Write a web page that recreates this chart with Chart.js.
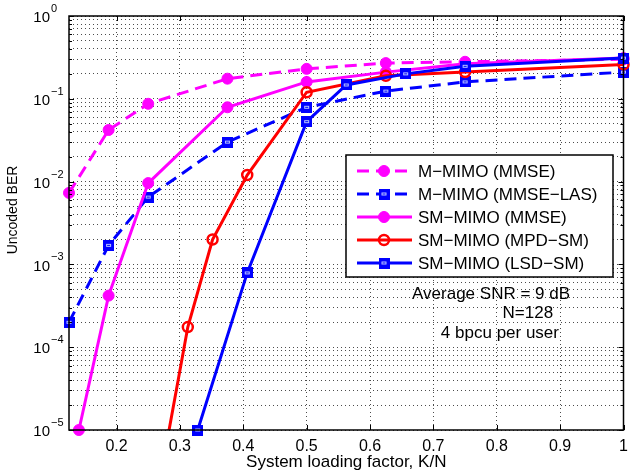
<!DOCTYPE html>
<html>
<head>
<meta charset="utf-8">
<script src="https://cdn.jsdelivr.net/npm/chart.js@4/dist/chart.umd.min.js"></script>
<style>
html, body { margin: 0; padding: 0; background: #fff; }
</style>
</head>
<body>
<canvas id="ber" width="631" height="472"></canvas>
<script>
// tick values
const xTickValues = [0.2, 0.3, 0.4, 0.5, 0.6, 0.7, 0.8, 0.9, 1];
const yDecades = [1e-5, 1e-4, 1e-3, 1e-2, 1e-1, 1];
const yExponents = ['\u22125', '\u22124', '\u22123', '\u22122', '\u22121', '0'];

// K/N values and BER
const mMimoX = [0.125, 0.1875, 0.25, 0.375, 0.5, 0.625, 0.75, 1];
const mMimoMmse = [7.3e-3, 0.042, 0.087, 0.175, 0.23, 0.27, 0.28, 0.30];
const mMimoLas = [2.0e-4, 1.7e-3, 6.5e-3, 0.030, 0.079, 0.124, 0.16, 0.21];
const smMmseX = [0.140625, 0.1875, 0.25, 0.375, 0.5, 0.625, 0.75, 1];
const smMmse = [1.0e-5, 4.2e-4, 9.6e-3, 0.079, 0.16, 0.21, 0.265, 0.31];
const smMpdX = [0.28125, 0.3125, 0.3515625, 0.40625, 0.5, 0.625, 0.75, 1];
const smMpd = [8.5e-6, 1.75e-4, 2.0e-3, 0.012, 0.12, 0.19, 0.21, 0.26];
const smLsdX = [0.328125, 0.40625, 0.5, 0.5625, 0.65625, 0.75, 1];
const smLsd = [1.0e-5, 7.9e-4, 0.053, 0.147, 0.2, 0.247, 0.31];

const legendLabels = ['M\u2212MIMO (MMSE)', 'M\u2212MIMO (MMSE\u2212LAS)', 'SM\u2212MIMO (MMSE)', 'SM\u2212MIMO (MPD\u2212SM)', 'SM\u2212MIMO (LSD\u2212SM)'];
const notes = [
    {text: 'Average SNR = 9 dB', x: 0.791, y: 4.3e-4},
    {text: 'N=128', x: 0.849, y: 2.6e-4},
    {text: '4 bpcu per user', x: 0.805, y: 1.48e-4}
];

const FONT = '"Liberation Sans", Arial, sans-serif';

// blue square marker with the small light inset like the matlab export
function squareMarker() {
    const c = document.createElement('canvas');
    c.width = 11; c.height = 11;
    const g = c.getContext('2d');
    g.fillStyle = '#0000ff';
    g.fillRect(0, 0, 11, 11);
    g.strokeStyle = '#b8c4ff';
    g.lineWidth = 1;
    g.strokeRect(3.5, 4.5, 4, 2);
    return c;
}
const sq = squareMarker();

function series(label, xs, ys, color, extra) {
    return Object.assign({
        label: label,
        data: xs.map((x, i) => ({x: x, y: ys[i]})),
        borderColor: color,
        backgroundColor: color,
        borderWidth: 3,
        pointBorderColor: color,
        pointBackgroundColor: color,
        pointBorderWidth: 1,
        pointRadius: 5.5,
        tension: 0,
        clip: {left: 12, top: 12, right: 12, bottom: 12}
    }, extra);
}

const datasets = [
    series(legendLabels[0], mMimoX, mMimoMmse, '#ff00ff', {borderDash: [12, 7], order: 5}),
    series(legendLabels[1], mMimoX, mMimoLas, '#0000ff', {borderDash: [12, 7], pointStyle: sq, pointRadius: 6, order: 4}),
    series(legendLabels[2], smMmseX, smMmse, '#ff00ff', {order: 3}),
    series(legendLabels[3], smMpdX, smMpd, '#ff0000', {pointBackgroundColor: 'rgba(0,0,0,0)', pointBorderWidth: 2.5, pointRadius: 5,
        clip: {left: 12, top: 12, right: 12, bottom: 0}, order: 2}),
    series(legendLabels[4], smLsdX, smLsd, '#0000ff', {pointStyle: sq, pointRadius: 6, order: 1})
];

const frame = {
    id: 'frame',
    afterDraw(chart) {
        const ctx = chart.ctx;
        const a = chart.chartArea;
        const xs = chart.scales.x, ys = chart.scales.y;
        ctx.save();

        // box
        ctx.strokeStyle = '#000';
        ctx.lineWidth = 1.5;
        ctx.strokeRect(a.left, a.top, a.right - a.left, a.bottom - a.top);

        // inward tick marks
        ctx.lineWidth = 1;
        ctx.beginPath();
        xTickValues.forEach(v => {
            const px = Math.round(xs.getPixelForValue(v)) + 0.5;
            ctx.moveTo(px, a.bottom); ctx.lineTo(px, a.bottom - 5);
            ctx.moveTo(px, a.top); ctx.lineTo(px, a.top + 5);
        });
        ys.ticks.forEach(t => {
            const py = Math.round(ys.getPixelForValue(t.value)) + 0.5;
            const len = yDecades.some(d => Math.abs(d - t.value) < d * 1e-6) ? 5 : 3;
            ctx.moveTo(a.left, py); ctx.lineTo(a.left + len, py);
            ctx.moveTo(a.right, py); ctx.lineTo(a.right - len, py);
        });
        ctx.stroke();

        // y tick labels, 10 with raised exponent
        ctx.fillStyle = '#000';
        yDecades.forEach((d, i) => {
            const py = ys.getPixelForValue(d);
            ctx.font = '15px ' + FONT;
            ctx.textAlign = 'right';
            ctx.textBaseline = 'middle';
            ctx.fillText('10', 50, py + 2);
            ctx.font = '11px ' + FONT;
            ctx.textAlign = 'left';
            ctx.textBaseline = 'alphabetic';
            ctx.fillText(yExponents[i], 51, py - 4);
        });

        // y title
        ctx.save();
        ctx.translate(13, 210);
        ctx.rotate(-Math.PI / 2);
        ctx.font = '14px ' + FONT;
        ctx.textAlign = 'center';
        ctx.textBaseline = 'middle';
        ctx.fillText('Uncoded BER', 0, 0);
        ctx.restore();

        // legend box
        const lx = 346, ly = 155, lw = 267, lh = 122;
        ctx.fillStyle = '#fff';
        ctx.fillRect(lx, ly, lw, lh);
        ctx.strokeStyle = '#000';
        ctx.lineWidth = 1.5;
        ctx.strokeRect(lx, ly, lw, lh);
        chart.data.datasets.forEach((ds, i) => {
            const cy = 171 + i * 23;
            ctx.save();
            ctx.strokeStyle = ds.borderColor;
            ctx.lineWidth = ds.borderWidth;
            ctx.setLineDash(ds.borderDash || []);
            ctx.beginPath();
            ctx.moveTo(357, cy); ctx.lineTo(412, cy);
            ctx.stroke();
            ctx.setLineDash([]);
            ctx.fillStyle = ds.pointBackgroundColor;
            ctx.strokeStyle = ds.pointBorderColor;
            ctx.lineWidth = ds.pointBorderWidth;
            Chart.helpers.drawPoint(ctx, {
                pointStyle: ds.pointStyle || 'circle', radius: ds.pointRadius,
                rotation: 0, borderWidth: ds.pointBorderWidth
            }, 384, cy);
            ctx.restore();
            ctx.fillStyle = '#000';
            ctx.font = '17px ' + FONT;
            ctx.textAlign = 'left';
            ctx.textBaseline = 'middle';
            ctx.fillText(ds.label, 418, cy + 1);
        });

        // text notes
        ctx.font = '17px ' + FONT;
        ctx.textAlign = 'center';
        ctx.textBaseline = 'middle';
        notes.forEach(n => {
            ctx.fillText(n.text, xs.getPixelForValue(n.x), ys.getPixelForValue(n.y));
        });

        ctx.restore();
    }
};

new Chart(document.getElementById('ber'), {
    type: 'line',
    data: {datasets: datasets},
    plugins: [frame],
    options: {
        responsive: false,
        animation: false,
        layout: {padding: {top: 16, right: 3, left: 0, bottom: 0}},
        plugins: {legend: {display: false}, tooltip: {enabled: false}},
        scales: {
            x: {
                type: 'linear',
                min: 0.125,
                max: 1,
                afterBuildTicks: axis => { axis.ticks = xTickValues.map(v => ({value: v})); },
                afterFit: axis => { axis.height = 42; axis.paddingLeft = 0; axis.paddingRight = 0; },
                ticks: {
                    autoSkip: false,
                    maxRotation: 0,
                    padding: 7,
                    color: '#000',
                    font: {family: FONT, size: 16},
                    callback: v => v === 1 ? '1' : v.toFixed(1)
                },
                grid: {color: 'rgba(0,0,0,0.7)', lineWidth: 1, drawTicks: false},
                border: {display: false, dash: [1, 3]},
                title: {
                    display: true,
                    text: 'System loading factor, K/N',
                    color: '#000',
                    font: {family: FONT, size: 17},
                    padding: {top: 0, bottom: -1}
                }
            },
            y: {
                type: 'logarithmic',
                min: 1e-5,
                max: 1,
                afterBuildTicks: axis => {
                    const t = [];
                    yDecades.forEach((d, i) => {
                        if (i === yDecades.length - 1) { t.push({value: d}); return; }
                        for (let k = 1; k <= 9; k++) t.push({value: d * k});
                    });
                    axis.ticks = t;
                },
                afterFit: axis => { axis.width = 69; axis.paddingTop = 0; axis.paddingBottom = 0; },
                ticks: {display: false, autoSkip: false},
                grid: {color: 'rgba(0,0,0,0.7)', lineWidth: 1, drawTicks: false},
                border: {display: false, dash: [1, 3]}
            }
        }
    }
});
</script>
</body>
</html>
